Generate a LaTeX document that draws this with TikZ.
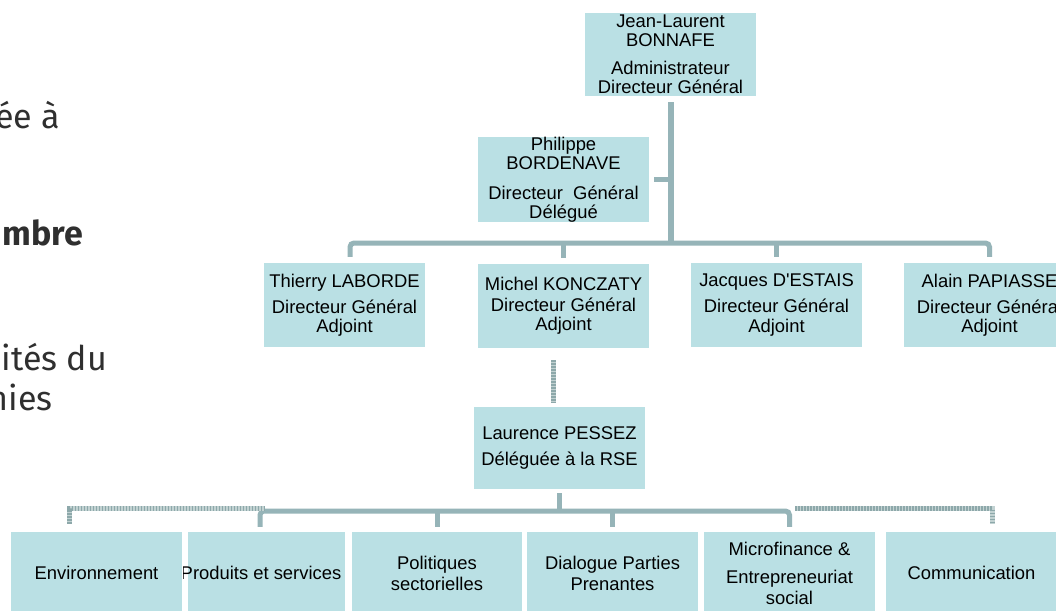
\documentclass[tikz,border=0pt]{standalone}
\usepackage{fontspec}
\setmainfont{Liberation Sans}[Ligatures=TeXOff]
\newfontfamily\leftfont{Fira Sans}
\usetikzlibrary{calc}
\definecolor{boxfill}{HTML}{BAE0E4}
\definecolor{conncol}{HTML}{96B4B8}
\definecolor{hatchA}{HTML}{C2D2D2}
\definecolor{hatchB}{HTML}{8DA8AA}
\definecolor{lefttext}{HTML}{2F2F2F}
\tikzset{
  box/.style={fill=boxfill, inner sep=0pt, align=center, text=black,
    font=\fontsize{18.4}{19.5}\selectfont},
  wbox/.style={box, minimum width=171pt, minimum height=83pt},
  bbox/.style={box, minimum width=171pt, minimum height=82pt,
    font=\fontsize{18.4}{21}\selectfont},
  connline/.style={draw=conncol, line width=5pt, rounded corners=4pt},
  hatchline/.style={draw=hatchB, line width=5pt, dash pattern=on 1.5pt off 1.5pt,
    preaction={draw=hatchA, line width=5pt, solid}},
  lefttxt/.style={inner sep=0pt, anchor=base east, text=lefttext,
    font=\leftfont\fontsize{34}{40}\selectfont}
}
\begin{document}
\begin{tikzpicture}[x=1pt,y=-1pt]
\clip (0,0) rectangle (1056,610);
\fill[white] (0,0) rectangle (1056,610);

% left text fragments
\node[lefttxt] (t1) at (60,128) {ée à};
\node[lefttxt, font=\leftfont\bfseries\fontsize{34}{40}\selectfont] (t2) at (83,245) {mbre};
\node[lefttxt] (t3) at (107,370) {ités du};
\node[lefttxt] (t4) at (53,410) {nies};

% boxes
\node[wbox] (jl) at (670.5,54.5) {Jean-Laurent\\BONNAFE\\[8pt]Administrateur\\Directeur Général};
\node[wbox] (pb) at (563.5,179.5) {Philippe\\BORDENAVE\\[10pt]Directeur\ \ Général\\Délégué};
\node[box, minimum width=161pt, minimum height=84pt] (tl) at (344.5,305) {Thierry LABORDE\\[6.5pt]Directeur Général\\Adjoint};
\node[wbox, minimum height=84pt] (mk) at (563.5,306) {Michel KONCZATY\\[1pt]Directeur Général\\Adjoint};
\node[wbox, minimum height=84pt] (jd) at (776.5,305) {Jacques D'ESTAIS\\[6.5pt]Directeur Général\\Adjoint};
\node[wbox, minimum height=84pt] (ap) at (989.5,305) {Alain PAPIASSE\\[6.5pt]Directeur Général\\Adjoint};
\node[wbox, minimum height=82pt] (lp) at (559.5,448) {Laurence PESSEZ\\[6.5pt]Déléguée à la RSE};

\node[bbox] (env) at (96.5,573) {Environnement};
\node[bbox, minimum width=157pt] (prod) at (266.5,573) {};
\begin{scope}
  \clip ($(prod.north west)+(-4,0)$) rectangle (prod.south east);
  \node[box, fill=none] (prodtext) at (261,573) {Produits et services};
\end{scope}
\node[bbox, minimum width=170pt] (pol) at (437,573) {Politiques\\sectorielles};
\node[bbox] (dia) at (612.5,573) {Dialogue Parties\\Prenantes};
\node[bbox] (mic) at (789.5,573) {Microfinance \&\\[7pt]Entrepreneuriat\\social};
\node[bbox] (com) at (971.5,573) {Communication};

% connectors, top part
\coordinate (barA) at (0,243);
\draw[connline, line width=6pt] ([yshift=-6pt]jl.south) -- (jl.south |- barA);
\draw[connline] ([xshift=5pt]pb.east) -- (pb.east -| jl.south);
\coordinate (tlleg) at ([xshift=5.5pt,yshift=6pt]tl.north);
\draw[connline] (tlleg) -- (tlleg |- barA) -- (ap.north |- barA) -- ([yshift=6pt]ap.north);
\draw[connline] ([yshift=6pt]mk.north) -- (mk.north |- barA);
\draw[connline] ([yshift=6pt]jd.north) -- (jd.north |- barA);

% dotted link Michel -> Laurence
\draw[hatchline] ([xshift=-10pt,yshift=-12pt]mk.south) -- ([xshift=-6pt,yshift=4pt]lp.north);

% bottom part
\coordinate (barB) at (0,511);
\coordinate (hatchY) at (0,508.5);
\draw[connline] ([yshift=-4pt]lp.south) -- (lp.south |- barB);
\coordinate (prodleg) at ([xshift=-6.5pt,yshift=5pt]prod.north);
\coordinate (micleg) at ([yshift=5pt]mic.north);
\draw[connline] (prodleg) -- (prodleg |- barB) -- (micleg |- barB) -- (micleg);
\draw[connline] ([yshift=5pt]pol.north) -- (pol.north |- barB);
\draw[connline] ([yshift=5pt]dia.north) -- (dia.north |- barB);

\coordinate (envleg) at ([xshift=-27.5pt,yshift=8pt]env.north);
\coordinate (comleg) at ([xshift=20.5pt,yshift=8pt]com.north);
\draw[hatchline] (envleg) -- (envleg |- hatchY) -- ($(prodleg |- hatchY)+(5,0)$);
\draw[hatchline] ($(micleg |- hatchY)+(5.5,0)$) -- (comleg |- hatchY) -- (comleg);
\end{tikzpicture}
\end{document}
